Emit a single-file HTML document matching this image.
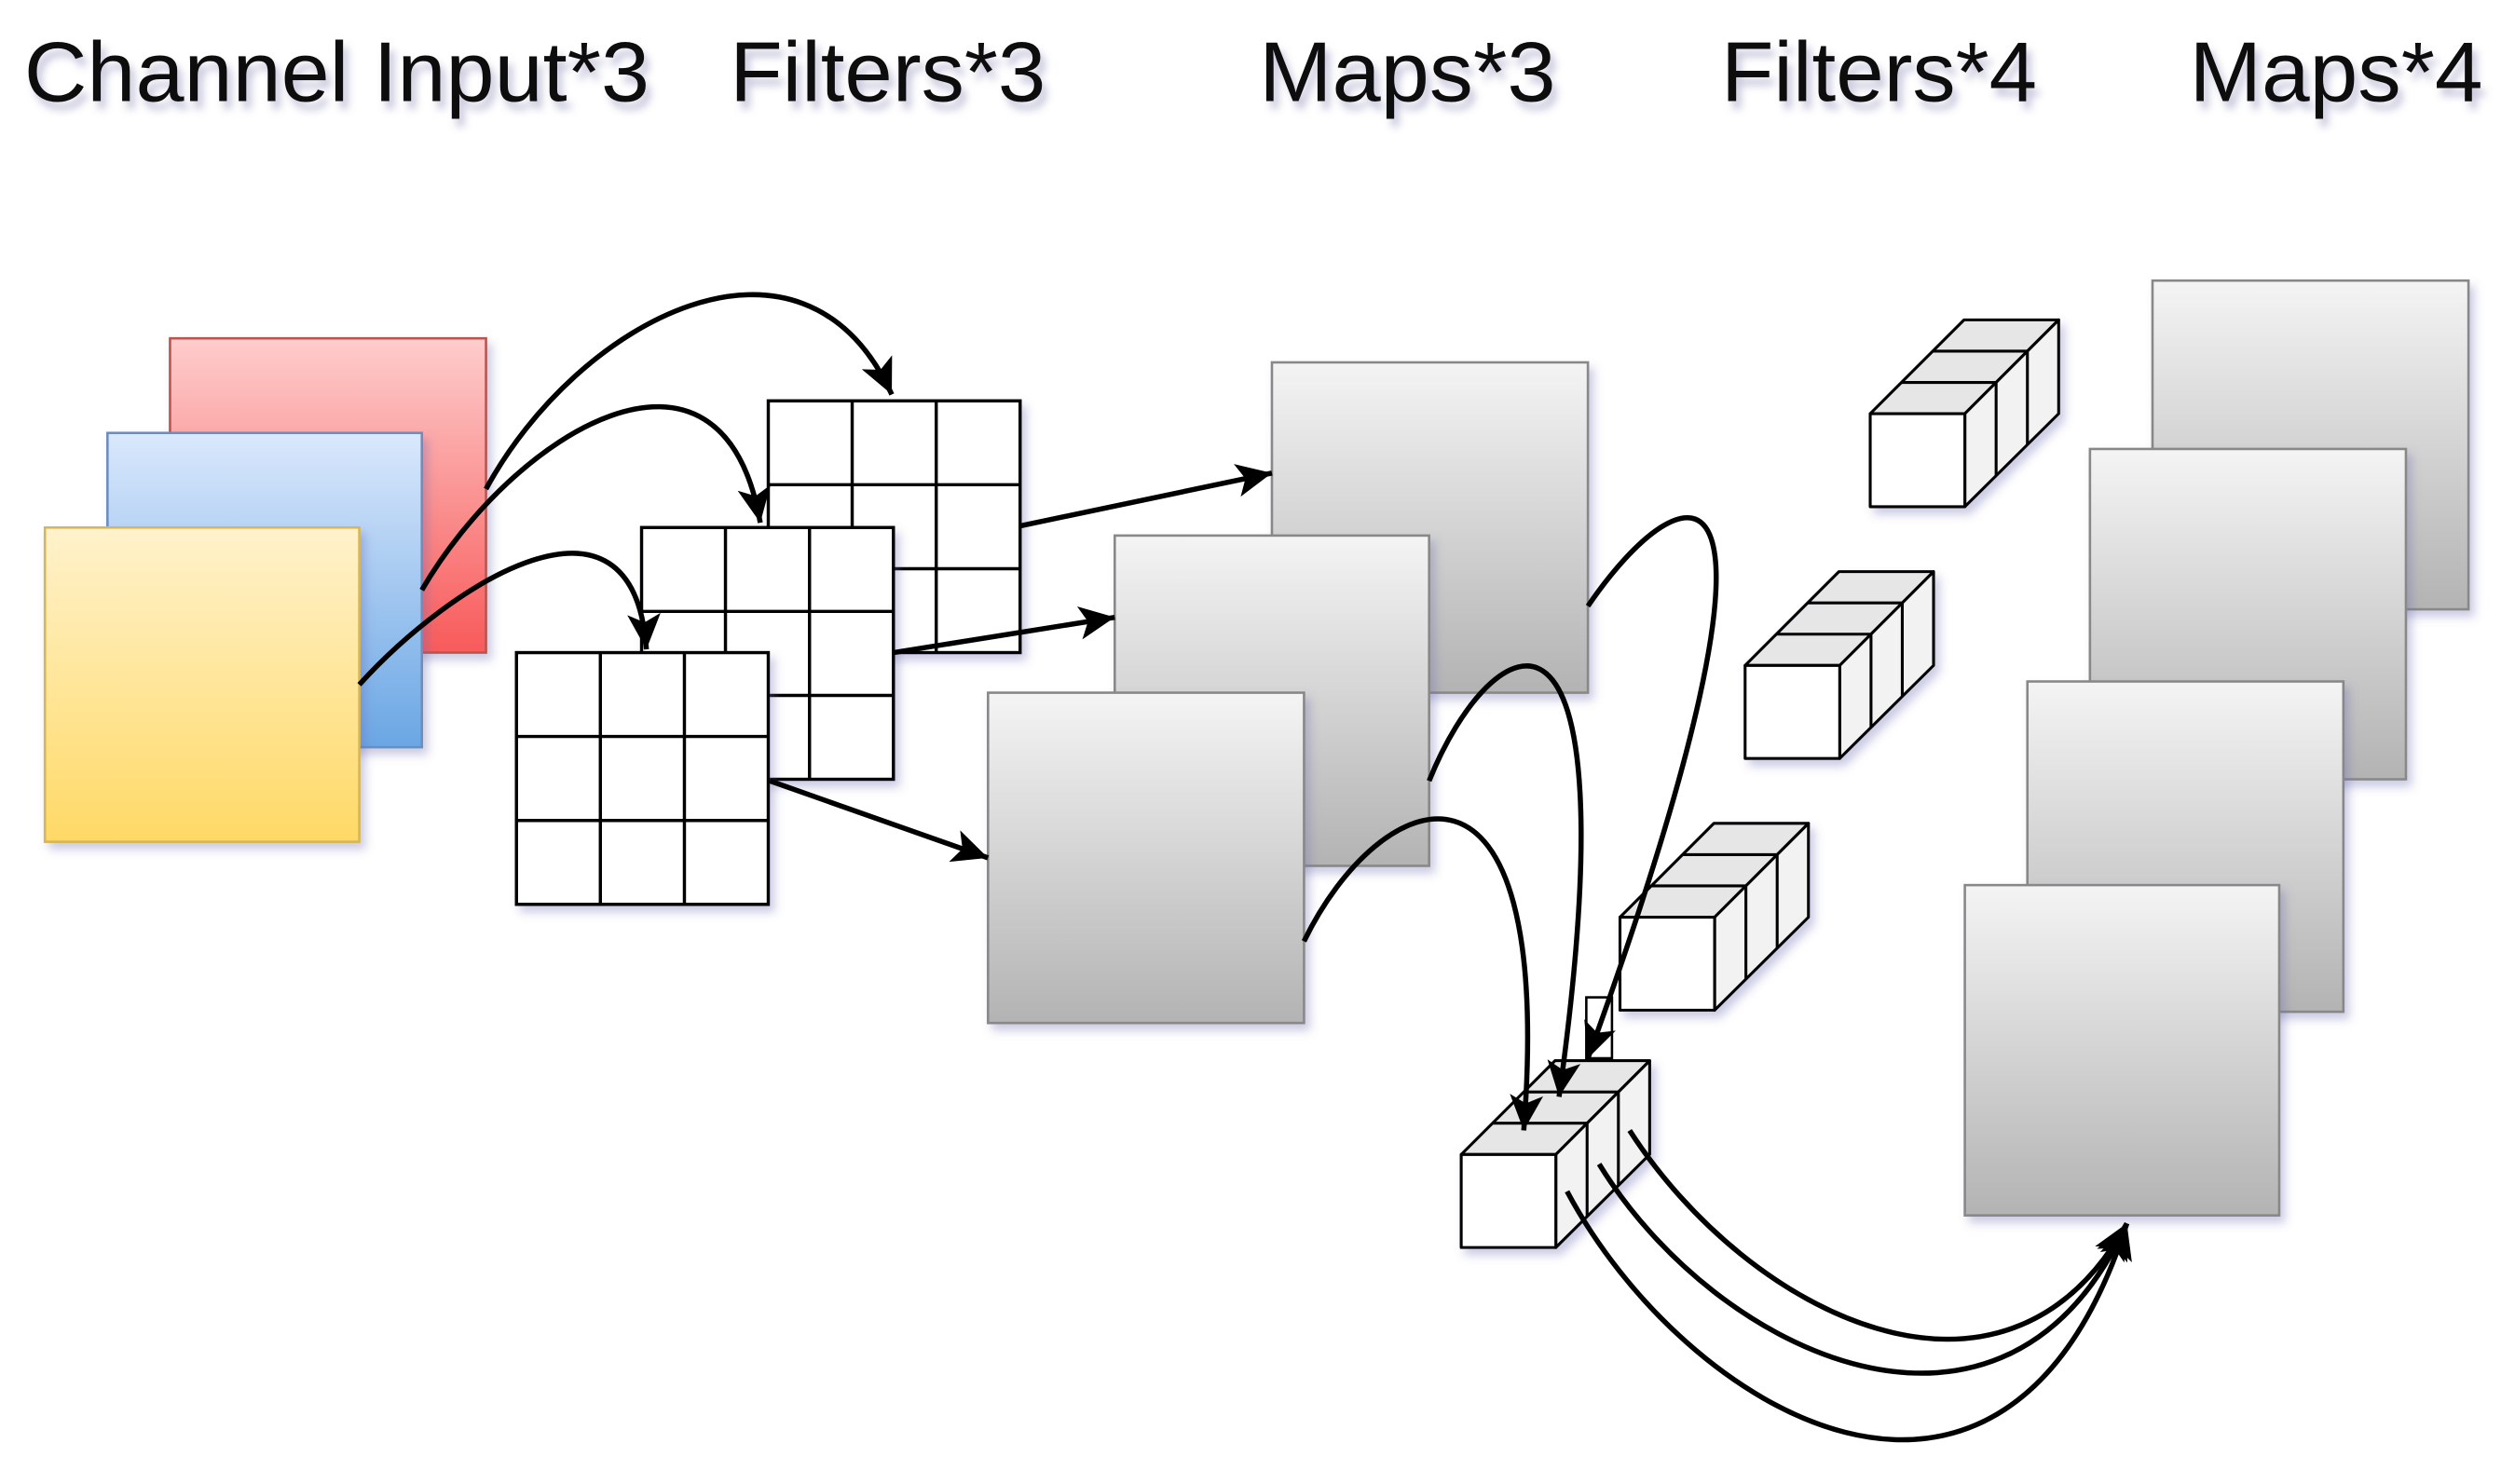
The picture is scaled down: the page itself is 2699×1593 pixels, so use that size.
<!DOCTYPE html>
<html><head><meta charset="utf-8"><style>
html,body{margin:0;padding:0;background:#fff;}
svg{display:block;}
</style></head><body>
<svg width="2699" height="1593" viewBox="0 0 1568 925.5" preserveAspectRatio="none" xmlns="http://www.w3.org/2000/svg">
<defs>
<filter id="sh" x="-10%" y="-10%" width="130%" height="130%">
<feDropShadow dx="3" dy="4" stdDeviation="3" flood-color="#6a6ab0" flood-opacity="0.35"/>
</filter>
<filter id="tsh" x="-5%" y="-20%" width="110%" height="160%">
<feDropShadow dx="3" dy="5" stdDeviation="2.5" flood-color="#8080b0" flood-opacity="0.45"/>
</filter>
<linearGradient id="gr" x1="0" y1="0" x2="0" y2="1"><stop offset="0" stop-color="#fecccc"/><stop offset="1" stop-color="#f85a5a"/></linearGradient>
<linearGradient id="gb" x1="0" y1="0" x2="0" y2="1"><stop offset="0" stop-color="#dae8fc"/><stop offset="1" stop-color="#6aa6e4"/></linearGradient>
<linearGradient id="gy" x1="0" y1="0" x2="0" y2="1"><stop offset="0" stop-color="#fff2cc"/><stop offset="1" stop-color="#ffd966"/></linearGradient>
<linearGradient id="gg" x1="0" y1="0" x2="0" y2="1"><stop offset="0" stop-color="#f4f4f4"/><stop offset="1" stop-color="#b3b3b3"/></linearGradient>
<marker id="ar" viewBox="0 0 10 10" refX="9" refY="5" markerWidth="13" markerHeight="13" orient="auto" markerUnits="userSpaceOnUse" style="overflow:visible">
<path d="M-8,-3 L9,5 L-8,13 L-4,5 Z" fill="#000"/>
</marker>
<g id="grid">
<rect x="0" y="0" width="157" height="157" fill="#fff" stroke="#000" stroke-width="2"/>
<line x1="52.3" y1="0" x2="52.3" y2="157" stroke="#000" stroke-width="2"/>
<line x1="104.7" y1="0" x2="104.7" y2="157" stroke="#000" stroke-width="2"/>
<line x1="0" y1="52.3" x2="157" y2="52.3" stroke="#000" stroke-width="2"/>
<line x1="0" y1="104.7" x2="157" y2="104.7" stroke="#000" stroke-width="2"/>
</g>
<g id="cube" stroke="#000" stroke-width="1.8" stroke-linejoin="round">
<polygon points="0,0 58.5,-58.5 117.5,-58.5 59,0" fill="#e6e6e6"/>
<polygon points="59,0 117.5,-58.5 117.5,0 59,58" fill="#f2f2f2"/>
<rect x="0" y="0" width="59" height="58" fill="#fff"/>
<line x1="19.5" y1="-19.5" x2="78.5" y2="-19.5"/>
<line x1="39" y1="-39" x2="98" y2="-39"/>
<line x1="78.5" y1="-19.5" x2="78.5" y2="38.5"/>
<line x1="98" y1="-39" x2="98" y2="19"/>
</g>
</defs>

<g font-family="'Liberation Sans', Arial, sans-serif" font-size="53" fill="#111" filter="url(#tsh)">
<text x="15" y="63" textLength="390" lengthAdjust="spacingAndGlyphs">Channel Input*3</text>
<text x="455" y="63" textLength="197" lengthAdjust="spacingAndGlyphs">Filters*3</text>
<text x="785" y="63" textLength="185" lengthAdjust="spacingAndGlyphs">Maps*3</text>
<text x="1073" y="63" textLength="197" lengthAdjust="spacingAndGlyphs">Filters*4</text>
<text x="1365" y="63" textLength="183" lengthAdjust="spacingAndGlyphs">Maps*4</text>
</g>

<rect x="106" y="211" width="197" height="196" fill="url(#gr)" stroke="#b85450" stroke-width="1.5" filter="url(#sh)"/>
<rect x="67" y="270" width="196" height="196" fill="url(#gb)" stroke="#6c8ebf" stroke-width="1.5" filter="url(#sh)"/>
<rect x="28" y="329" width="196" height="196" fill="url(#gy)" stroke="#d6b656" stroke-width="1.5" filter="url(#sh)"/>

<use href="#grid" x="479" y="250" filter="url(#sh)"/>
<use href="#grid" x="400" y="329" filter="url(#sh)"/>
<use href="#grid" x="322" y="407" filter="url(#sh)"/>

<rect x="793" y="226" width="197" height="206" fill="url(#gg)" stroke="#888" stroke-width="1.5" filter="url(#sh)"/>
<rect x="695" y="334" width="196" height="206" fill="url(#gg)" stroke="#888" stroke-width="1.5" filter="url(#sh)"/>
<rect x="616" y="432" width="197" height="206" fill="url(#gg)" stroke="#888" stroke-width="1.5" filter="url(#sh)"/>

<rect x="1342" y="175" width="197" height="205" fill="url(#gg)" stroke="#888" stroke-width="1.5" filter="url(#sh)"/>
<rect x="1303" y="280" width="197" height="206" fill="url(#gg)" stroke="#888" stroke-width="1.5" filter="url(#sh)"/>
<rect x="1264" y="425" width="197" height="206" fill="url(#gg)" stroke="#888" stroke-width="1.5" filter="url(#sh)"/>
<rect x="1225" y="552" width="196" height="206" fill="url(#gg)" stroke="#888" stroke-width="1.5" filter="url(#sh)"/>

<use href="#cube" x="1166" y="258" filter="url(#sh)"/>
<use href="#cube" x="1088" y="415" filter="url(#sh)"/>
<use href="#cube" x="1010" y="572" filter="url(#sh)"/>
<rect x="989" y="622" width="16" height="38" fill="#fff" stroke="#000" stroke-width="1.5"/>
<use href="#cube" x="911" y="720" filter="url(#sh)"/>

<g fill="none" stroke="#000" stroke-width="3.2" marker-end="url(#ar)">
<path d="M303,305 C360,200 500,125 556,246"/>
<path d="M263,368 C320,270 450,190 474,326"/>
<path d="M224,427 C280,365 395,290 403,405"/>
<path d="M636,328 L793,295"/>
<path d="M557,407 L695,385"/>
<path d="M480,487 L616,535"/>
<path d="M990,378 C1050,290 1135,260 990,660"/>
<path d="M891,487 C930,390 1020,340 972,684"/>
<path d="M813,587 C860,490 970,445 950,705"/>
<path d="M1016,705 C1090,820 1250,900 1326,763"/>
<path d="M997,726 C1070,845 1250,930 1326,763"/>
<path d="M977,743 C1050,880 1250,1000 1326,763"/>
</g>
</svg>
</body></html>
